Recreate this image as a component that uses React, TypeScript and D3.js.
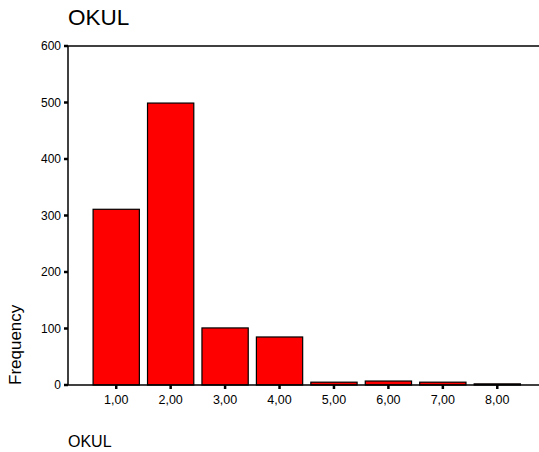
import React from "react";
import * as d3 from "d3";

const categories = ["1,00", "2,00", "3,00", "4,00", "5,00", "6,00", "7,00", "8,00"];
const frequencies = [311, 499, 101, 85, 5, 7, 5, 2];
const yTicks = [0, 100, 200, 300, 400, 500, 600];
const title = "OKUL";
const xLabel = "OKUL";
const yLabel = "Frequency";

export default function App() {
  const W = 539, H = 452;
  const axisX = 68, plotRight = 539, top = 46, bottom = 385;
  const x = d3.scaleBand<string>().domain(categories).range([89, 524.5]).paddingInner(0.15).paddingOuter(0.075);
  const y = d3.scaleLinear().domain([0, 600]).range([bottom, top]);
  const font = "Arial, 'Liberation Sans', Helvetica, sans-serif";
  return (
    <svg width={W} height={H} style={{ position: "absolute", left: 0, top: 0, background: "#fff" }} fontFamily={font}>
      <rect x={0} y={0} width={W} height={H} fill="#fff" />
      <text x={68} y={25} fontSize={22.5} fill="#000">{title}</text>
      {categories.map((c, i) => (
        <rect key={c} x={x(c)!} y={y(frequencies[i])} width={x.bandwidth()} height={bottom - y(frequencies[i])}
          fill="#ff0000" stroke="#000" strokeWidth={1.2} />
      ))}
      <line x1={axisX} x2={plotRight} y1={top} y2={top} stroke="#000" strokeWidth={1.5} />
      <line x1={axisX} x2={plotRight} y1={bottom} y2={bottom} stroke="#000" strokeWidth={1.5} />
      <line x1={axisX} x2={axisX} y1={top} y2={bottom} stroke="#000" strokeWidth={1.5} />
      {yTicks.map(t => (
        <g key={t}>
          <line x1={axisX - 4} x2={axisX} y1={y(t)} y2={y(t)} stroke="#000" strokeWidth={2.5} />
          <text x={61} y={y(t) + 4} fontSize={12} textAnchor="end" fill="#000">{t}</text>
        </g>
      ))}
      {categories.map(c => {
        const cx = x(c)! + x.bandwidth() / 2;
        return (
          <g key={c}>
            <line x1={cx} x2={cx} y1={bottom} y2={bottom + 4} stroke="#000" strokeWidth={2.5} />
            <text x={cx} y={404} fontSize={12.5} textAnchor="middle" fill="#000">{c}</text>
          </g>
        );
      })}
      <text transform={`translate(21,385) rotate(-90)`} fontSize={17} fill="#000">{yLabel}</text>
      <text x={68} y={447} fontSize={16} fill="#000">{xLabel}</text>
    </svg>
  );
}
